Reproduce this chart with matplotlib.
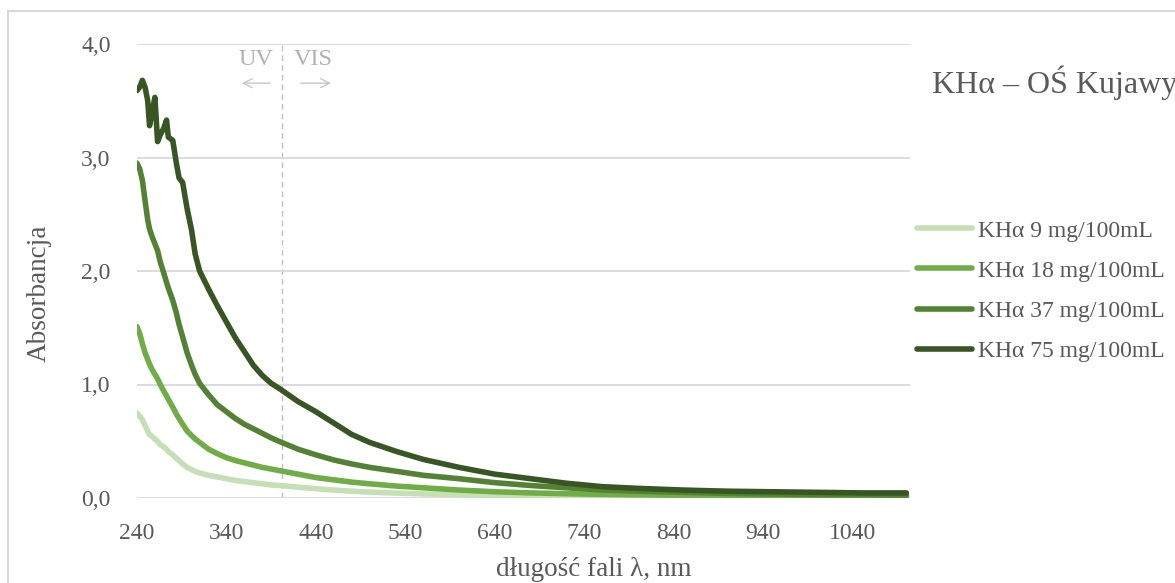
import matplotlib
matplotlib.use("Agg")
from matplotlib import pyplot as plt
from matplotlib.patches import Rectangle

plt.rcParams['font.family'] = ['Liberation Serif', 'DejaVu Serif']

# wavelength grid, nm
wavelength = [240, 243, 246, 249, 252, 254, 257, 260, 263, 266,
              270, 273, 275, 280, 284, 287, 291, 296, 301, 305,
              310, 320, 330, 340, 350, 360, 370, 380, 390, 400,
              420, 440, 460, 480, 500, 530, 560, 600, 640, 680,
              720, 760, 800, 850, 900, 950, 1000, 1050, 1100]

abs_9 = [0.75, 0.72, 0.69, 0.64, 0.59, 0.56, 0.54, 0.52, 0.50, 0.47,
         0.45, 0.43, 0.41, 0.38, 0.35, 0.33, 0.30, 0.27, 0.25, 0.235,
         0.22, 0.20, 0.185, 0.17, 0.155, 0.145, 0.135, 0.125, 0.115, 0.11,
         0.095, 0.082, 0.07, 0.06, 0.052, 0.043, 0.036, 0.029, 0.024, 0.02,
         0.017, 0.015, 0.013, 0.012, 0.011, 0.01, 0.01, 0.01, 0.01]

abs_18 = [1.51, 1.45, 1.36, 1.28, 1.22, 1.18, 1.13, 1.09, 1.05, 1.00,
          0.94, 0.90, 0.87, 0.80, 0.74, 0.70, 0.65, 0.59, 0.55, 0.52,
          0.49, 0.43, 0.39, 0.355, 0.33, 0.31, 0.29, 0.27, 0.255, 0.24,
          0.21, 0.18, 0.16, 0.14, 0.125, 0.105, 0.09, 0.07, 0.055, 0.045,
          0.038, 0.032, 0.028, 0.024, 0.021, 0.019, 0.017, 0.016, 0.015]

abs_37 = [2.95, 2.90, 2.80, 2.62, 2.45, 2.37, 2.30, 2.24, 2.18, 2.08,
          1.98, 1.90, 1.85, 1.74, 1.63, 1.53, 1.42, 1.28, 1.17, 1.09,
          1.01, 0.91, 0.82, 0.76, 0.70, 0.65, 0.61, 0.57, 0.53, 0.495,
          0.43, 0.38, 0.335, 0.30, 0.27, 0.235, 0.20, 0.17, 0.135, 0.11,
          0.09, 0.07, 0.06, 0.05, 0.04, 0.035, 0.03, 0.028, 0.025]

abs_75 = [3.59, 3.62, 3.68, 3.62, 3.50, 3.28, 3.40, 3.53, 3.14, 3.20,
          3.26, 3.33, 3.18, 3.15, 2.95, 2.82, 2.78, 2.55, 2.36, 2.15,
          2.00, 1.84, 1.69, 1.55, 1.41, 1.29, 1.17, 1.08, 1.01, 0.96,
          0.85, 0.76, 0.66, 0.56, 0.49, 0.41, 0.34, 0.27, 0.21, 0.17,
          0.13, 0.10, 0.085, 0.07, 0.06, 0.055, 0.05, 0.045, 0.045]

labels = ["KHα 9 mg/100mL", "KHα 18 mg/100mL", "KHα 37 mg/100mL", "KHα 75 mg/100mL"]
colors = ["#c5e0b4", "#70ad47", "#548235", "#375623"]
series = [abs_9, abs_18, abs_37, abs_75]

x_ticks = [240, 340, 440, 540, 640, 740, 840, 940, 1040]
y_ticks = [0, 1, 2, 3, 4]
uv_vis_border = 402

TXT = "#595959"
W, H = 1175, 583

fig = plt.figure(figsize=(W / 100, H / 100), dpi=100)
ax = fig.add_axes([137 / W, 1 - 498 / H, (910 - 137) / W, (498 - 44) / H])

for y, lab, c in zip(series, labels, colors):
    ax.plot(wavelength, y, color=c, lw=4, label=lab, solid_capstyle="round",
            solid_joinstyle="round")

ax.axvline(uv_vis_border, color="#bfbfbf", lw=1, ls=(0, (4, 3)), zorder=0)

ax.set_xlim(240, 1104)
ax.set_ylim(0, 4)
ax.set_xticks(x_ticks)
ax.set_yticks(y_ticks)
ax.set_yticklabels([f"{v:.1f}".replace(".", ",") for v in y_ticks])
ax.tick_params(length=0, labelsize=17, labelcolor=TXT)
ax.tick_params(axis="x", pad=18)
ax.tick_params(axis="y", pad=19)
for s in ax.spines.values():
    s.set_visible(False)
ax.grid(axis="y", color="#d9d9d9", lw=1.3)
ax.set_axisbelow(True)

# UV / VIS markers
ax.text(373, 3.86, "UV", ha="center", va="center", fontsize=17.5, color="#b0b0b0")
ax.text(437, 3.86, "VIS", ha="center", va="center", fontsize=17.5, color="#b0b0b0")
ax.annotate("", xy=(354, 3.655), xytext=(392, 3.655),
            arrowprops=dict(arrowstyle="->", color="#c8c8c8", lw=1,
                            mutation_scale=16))
ax.annotate("", xy=(460, 3.655), xytext=(420, 3.655),
            arrowprops=dict(arrowstyle="->", color="#c8c8c8", lw=1,
                            mutation_scale=16))

fig.text(39 / W, 1 - 293 / H, "Absorbancja", rotation=90, ha="center", va="center",
         fontsize=19.5, color=TXT)
fig.text(594 / W, 1 - 569 / H, "długość fali λ, nm", ha="center", va="center",
         fontsize=19.5, color=TXT)
fig.text(932 / W, 1 - 83 / H, "KHα – OŚ Kujawy", ha="left", va="center",
         fontsize=23, color=TXT)

ax.legend(loc="upper left", bbox_to_anchor=(917 / W, 1 - 220 / H),
          bbox_transform=fig.transFigure, frameon=False, fontsize=17,
          labelcolor=TXT, handlelength=2.35, handletextpad=0.25,
          labelspacing=0.79, borderpad=0, borderaxespad=0)

fig.patches.append(Rectangle((8 / W, -0.1), 2, 1 - 11 / H + 0.1,
                             transform=fig.transFigure, fill=False,
                             ec="#d9d9d9", lw=1.5))

fig.savefig("out.png", dpi=100)
